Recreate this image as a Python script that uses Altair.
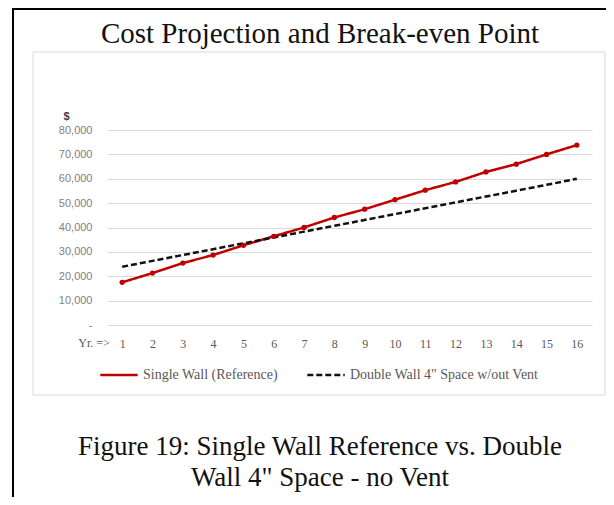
import altair as alt
import pandas as pd

years = list(range(1, 17))
single_wall = [17500, 21300, 25400, 28700, 32700, 36400, 40000, 44100,
               47500, 51400, 55300, 58700, 62800, 66000, 70000, 73800]
double_wall = [23900, 26300, 28700, 31100, 33500, 35900, 38300, 40700,
               43100, 45500, 47900, 50300, 52700, 55100, 57500, 60000]
series_names = ["Single Wall (Reference)", "Double Wall 4\" Space w/out Vent"]
y_ticks = [0, 10000, 20000, 30000, 40000, 50000, 60000, 70000, 80000]
chart_title = "Cost Projection and Break-even Point"
caption = "Figure 19: Single Wall Reference  vs. Double\nWall 4\" Space - no Vent"
x_prefix = "Yr. =>"

rows = []
for name, vals in zip(series_names, [single_wall, double_wall]):
    for yr, v in zip(years, vals):
        rows.append({"year": yr, "cost": v, "series": name})
df = pd.DataFrame(rows)

W, H = 485, 195
PL, PT, PR, PB = 99, 122, 14, 172
SERIF = "Liberation Serif"

x_enc = alt.X("year:Q",
              scale=alt.Scale(domain=[0.5, 16.5], nice=False, zero=False),
              axis=alt.Axis(values=years, format="d", title=None, ticks=False,
                            domain=False, grid=False, labelFont=SERIF,
                            labelFontSize=12, labelColor="#595959",
                            labelPadding=13, labelOverlap=False))
y_enc = alt.Y("cost:Q",
              scale=alt.Scale(domain=[0, 80000], nice=False),
              axis=alt.Axis(values=y_ticks,
                            labelExpr="datum.value == 0 ? '-' : format(datum.value, ',')",
                            ticks=False, domain=False, grid=True,
                            gridColor="#d9d9d9", gridWidth=1,
                            labelFont="Liberation Sans", labelFontSize=11,
                            labelColor="#808080", labelPadding=15,
                            labelOverlap=False,
                            title="$", titleAngle=0, titleX=-41, titleY=-14,
                            titleAlign="center", titleBaseline="middle",
                            titleFont="Liberation Sans", titleFontSize=11,
                            titleFontWeight="bold", titleColor="#404040"))

legend_cfg = dict(title=None, orient="none", legendX=-8, legendY=225,
                  direction="horizontal", symbolType="stroke",
                  symbolSize=1400, symbolStrokeWidth=2.5,
                  labelFont=SERIF, labelFontSize=14,
                  labelColor="#595959", columnPadding=24,
                  labelLimit=0, labelOffset=4)

color_enc = alt.Color("series:N",
                      scale=alt.Scale(domain=series_names, range=["#c00000", "#111111"]),
                      legend=alt.Legend(**legend_cfg))
dash_enc = alt.StrokeDash("series:N",
                          scale=alt.Scale(domain=series_names, range=[[1, 0], [6, 3]]),
                          legend=alt.Legend(**legend_cfg))

lines = alt.Chart(df).mark_line(strokeWidth=2.5).encode(
    x=x_enc, y=y_enc, color=color_enc, strokeDash=dash_enc)

points = alt.Chart(df).transform_filter(
    alt.datum.series == series_names[0]
).mark_point(filled=True, size=28, opacity=1, shape="circle").encode(
    x=x_enc, y=y_enc, color=color_enc)

one = pd.DataFrame({"a": [0]})
inner_frame = alt.Chart(one).mark_rect(fillOpacity=0, stroke="#d9d9d9", strokeWidth=1).encode(
    x=alt.value(-74), x2=alt.value(498), y=alt.value(-78), y2=alt.value(265))
frame_left = alt.Chart(one).mark_rule(color="black", strokeWidth=2).encode(
    x=alt.value(-94), y=alt.value(-122), y2=alt.value(H + PB))
frame_top = alt.Chart(one).mark_rule(color="black", strokeWidth=2).encode(
    x=alt.value(-95), x2=alt.value(W + PR), y=alt.value(-121))

title_txt = alt.Chart(pd.DataFrame({"t": [chart_title]})).mark_text(
    font=SERIF, fontSize=29, color="#111111", align="center", baseline="alphabetic"
).encode(x=alt.value(213), y=alt.value(-87), text="t:N")

caption_txt = alt.Chart(pd.DataFrame({"t": [caption]})).mark_text(
    font=SERIF, fontSize=27, color="#111111", align="center", baseline="middle",
    lineBreak="\n", lineHeight=31
).encode(x=alt.value(213), y=alt.value(317), text="t:N")

prefix_txt = alt.Chart(pd.DataFrame({"t": [x_prefix]})).mark_text(
    font=SERIF, fontSize=12, color="#595959", align="center", baseline="top"
).encode(x=alt.value(-13), y=alt.value(H + 13), text="t:N")

chart = alt.layer(
    inner_frame, frame_left, frame_top, lines, points,
    title_txt, caption_txt, prefix_txt
).properties(
    width=W, height=H,
    autosize=alt.AutoSizeParams(type="none"),
    padding={"left": PL, "top": PT, "right": PR, "bottom": PB},
    background="white"
).configure_view(stroke=None)

chart.save("out.html", embed_options={"renderer": "svg", "actions": False})
